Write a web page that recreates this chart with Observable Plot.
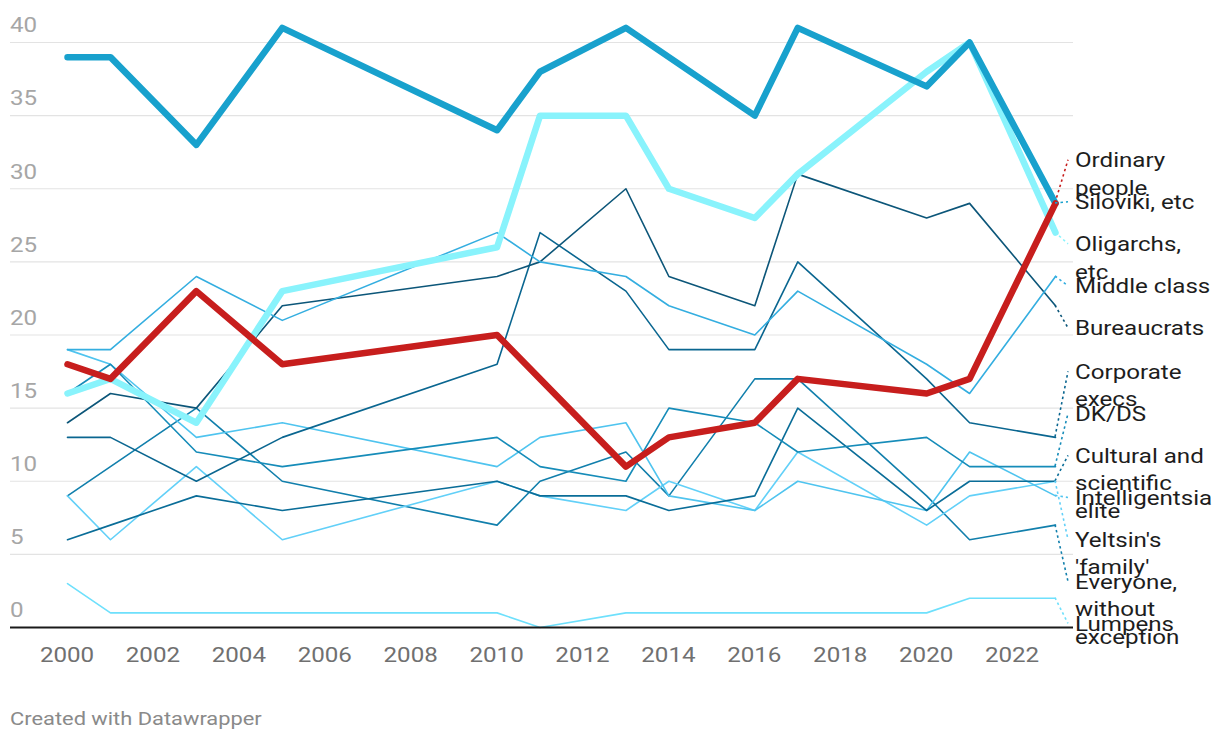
<!DOCTYPE html>
<html>
<head>
<meta charset="utf-8">
<script src="https://cdn.jsdelivr.net/npm/d3@7"></script>
<script src="https://cdn.jsdelivr.net/npm/@observablehq/plot@0.6"></script>
<style>
  html, body { margin: 0; padding: 0; background: #fff; }
  body { font-family: Roboto, "Noto Sans", sans-serif; width: 1220px; height: 744px; overflow: hidden; }
  #chart svg { display: block; }
  #caption { margin: 18px 0 0 10px; font-size: 19px; line-height: 22px; color: #8a8a8a; transform: scaleX(1.15); transform-origin: left center; white-space: nowrap; }
</style>
</head>
<body>
<div id="chart"></div>
<div id="caption">Created with Datawrapper</div>
<script>
// ---- data ----
const years = [2000, 2001, 2003, 2005, 2010, 2011, 2013, 2014, 2016, 2017, 2020, 2021, 2023];
const seriesNames = [
  "Ordinary people", "Siloviki, etc", "Oligarchs, etc", "Middle class", "Bureaucrats",
  "Corporate execs", "DK/DS", "Cultural and scientific elite", "Intelligentsia",
  "Yeltsin's 'family'", "Everyone, without exception", "Lumpens"
];
const ordinaryPeople = [18, 17, 23, 18, 20, 17, 11, 13, 14, 17, 16, 17, 29];
const siloviki       = [39, 39, 33, 41, 34, 38, 41, 39, 35, 41, 37, 40, 29];
const oligarchs      = [16, 17, 14, 23, 26, 35, 35, 30, 28, 31, 38, 40, 27];
const middleClass    = [19, 19, 24, 21, 27, 25, 24, 22, 20, 23, 18, 16, 24];
const bureaucrats    = [14, 16, 15, 22, 24, 25, 30, 24, 22, 31, 28, 29, 22];
const corporateExecs = [13, 13, 10, 13, 18, 27, 23, 19, 19, 25, 17, 14, 13];
const dkds           = [16, 18, 12, 11, 13, 11, 10, 15, 14, 12, 13, 11, 11];
const culturalElite  = [6, 7, 9, 8, 10, 9, 9, 8, 9, 15, 8, 10, 10];
const intelligentsia = [19, 18, 13, 14, 11, 13, 14, 9, 8, 10, 8, 12, 9];
const yeltsinFamily  = [9, 6, 11, 6, 10, 9, 8, 10, 8, 12, 7, 9, 10];
const everyone       = [9, 11, 15, 10, 7, 10, 12, 9, 17, 17, 9, 6, 7];
const lumpens        = [3, 1, 1, 1, 1, 0, 1, 1, 1, 1, 1, 2, 2];
const yTicks = [0, 5, 10, 15, 20, 25, 30, 35, 40];
const xTicks = [2000, 2002, 2004, 2006, 2008, 2010, 2012, 2014, 2016, 2018, 2020, 2022];

const seriesValues = [ordinaryPeople, siloviki, oligarchs, middleClass, bureaucrats,
  corporateExecs, dkds, culturalElite, intelligentsia, yeltsinFamily, everyone, lumpens];

// ---- styles ----
const colors = {
  "Ordinary people": "#c71e1d",
  "Siloviki, etc": "#18a1cd",
  "Oligarchs, etc": "#89f3fc",
  "Middle class": "#34aee0",
  "Bureaucrats": "#0c5679",
  "Corporate execs": "#0a6690",
  "DK/DS": "#168cb9",
  "Cultural and scientific elite": "#0a6d98",
  "Intelligentsia": "#4fc4ef",
  "Yeltsin's 'family'": "#62d0f8",
  "Everyone, without exception": "#117fac",
  "Lumpens": "#6ee0fc"
};
const thick = new Set(["Ordinary people", "Siloviki, etc", "Oligarchs, etc"]);
const drawOrder = ["Lumpens", "Everyone, without exception", "Yeltsin's 'family'", "Intelligentsia",
  "Cultural and scientific elite", "DK/DS", "Corporate execs", "Bureaucrats", "Middle class",
  "Oligarchs, etc", "Siloviki, etc", "Ordinary people"];
const stretch = 1.15; // horizontal text stretch seen in the reference

const rows = [];
seriesNames.forEach((s, i) => years.forEach((yr, j) => rows.push({series: s, year: yr, value: seriesValues[i][j]})));

const lineMarks = drawOrder.map(s => Plot.line(rows.filter(r => r.series === s), {
  x: "year", y: "value", stroke: colors[s],
  strokeWidth: thick.has(s) ? 6.5 : 1.6,
  strokeLinejoin: "round", strokeLinecap: "round"
}));

const plot = Plot.plot({
  width: 1220, height: 690,
  marginLeft: 10, marginRight: 147, marginTop: 42, marginBottom: 63,
  style: {fontFamily: "Roboto, sans-serif", background: "#fff"},
  x: {domain: [2000, 2023], insetLeft: 57, insetRight: 18, axis: null},
  y: {domain: [0, 40], axis: null},
  marks: [
    Plot.ruleY(yTicks.filter(d => d > 0), {stroke: "#e3e3e3", strokeWidth: 1.2}),
    ...lineMarks,
    Plot.ruleY([0], {stroke: "#1a1a1a", strokeWidth: 2})
  ]
});
document.getElementById("chart").appendChild(plot);

const xs = plot.scale("x"), ys = plot.scale("y");
const svg = d3.select(plot);

function stretchedText(g, x, y, str, opts) {
  const t = g.append("text")
    .attr("transform", `translate(${x},${y}) scale(${stretch},1)`)
    .attr("text-anchor", opts.anchor || "start")
    .attr("dy", "0.35em")
    .attr("font-family", "Roboto, sans-serif")
    .attr("font-size", opts.size)
    .attr("fill", opts.fill)
    .text(str);
  return t;
}

// ---- tick labels ----
const ax = svg.append("g");
yTicks.forEach(v => stretchedText(ax, 10, ys.apply(v) - 17, String(v), {size: 21, fill: "#a6a6a6"}));
xTicks.forEach(v => stretchedText(ax, xs.apply(v), ys.apply(0) + 28, String(v), {size: 21, fill: "#707070", anchor: "middle"}));

// ---- direct labels with leader lines ----
const endX = xs.apply(years[years.length - 1]);
const fontSize = 21, lineH = 27.5, maxW = 140, gap = 42;
const ctx = document.createElement("canvas").getContext("2d");
ctx.font = `${fontSize}px Roboto`;
function wrap(t) {
  const words = t.split(" "), lines = [];
  let cur = "";
  for (const w of words) {
    const test = cur ? cur + " " + w : w;
    if (cur && ctx.measureText(test).width * stretch > maxW) { lines.push(cur); cur = w; } else cur = test;
  }
  lines.push(cur);
  return lines;
}
const targets = seriesValues.map(v => ys.apply(v[v.length - 1]));
// isotonic (pool adjacent violators) placement with minimum spacing
const u = targets.map((t, i) => t - i * gap);
const blocks = [];
u.forEach(val => {
  blocks.push({sum: val, n: 1});
  while (blocks.length > 1 && blocks[blocks.length - 2].sum / blocks[blocks.length - 2].n > blocks[blocks.length - 1].sum / blocks[blocks.length - 1].n) {
    const b = blocks.pop();
    blocks[blocks.length - 1].sum += b.sum;
    blocks[blocks.length - 1].n += b.n;
  }
});
const fitted = [];
blocks.forEach(b => { for (let k = 0; k < b.n; k++) fitted.push(b.sum / b.n); });
const labelY = fitted.map((f, i) => f + i * gap);

const g = svg.append("g");
seriesNames.forEach((s, i) => {
  g.append("line")
    .attr("x1", endX).attr("y1", targets[i])
    .attr("x2", endX + 13).attr("y2", labelY[i])
    .attr("stroke", colors[s]).attr("stroke-width", 1.6)
    .attr("stroke-dasharray", "2.5,3");
  wrap(s).forEach((ln, k) => stretchedText(g, endX + 20, labelY[i] + k * lineH, ln, {size: fontSize, fill: "#1d1d1d"}));
});
</script>
</body>
</html>
